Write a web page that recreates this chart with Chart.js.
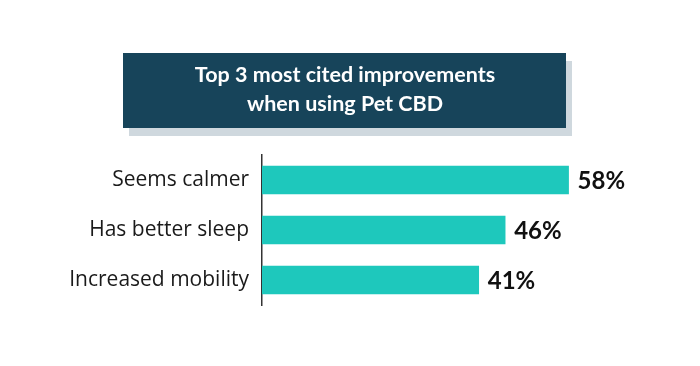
<!DOCTYPE html>
<html>
<head>
<meta charset="utf-8">
<script src="https://cdn.jsdelivr.net/npm/chart.js@4.4.0/dist/chart.umd.min.js"></script>
<style>
  html, body { margin: 0; padding: 0; background: #ffffff; }
  #wrap { width: 700px; height: 366px; position: relative; }
</style>
</head>
<body>
<div id="wrap"><canvas id="chart"></canvas></div>
<script>
// datos del grafico
const categorias = ["Seems calmer", "Has better sleep", "Increased mobility"];
const valores = [58, 46, 41];
const tituloLineas = ["Top 3 most cited improvements", "when using Pet CBD"];

// caja del titulo con sombra
const cajaTitulo = {
  id: "cajaTitulo",
  beforeDraw(chart) {
    const ctx = chart.ctx;
    ctx.save();
    ctx.fillStyle = "#cfd8de";
    ctx.fillRect(129, 61, 443, 75);
    ctx.fillStyle = "#17445a";
    ctx.fillRect(123, 53, 443, 75);
    ctx.fillStyle = "#ffffff";
    ctx.font = "bold 21.5px Lato";
    ctx.textAlign = "center";
    ctx.textBaseline = "middle";
    ctx.fillText(tituloLineas[0], 345, 75);
    ctx.fillText(tituloLineas[1], 345, 104);
    ctx.restore();
  },
};

// etiquetas de porcentaje al final de cada barra
const etiquetas = {
  id: "etiquetas",
  afterDatasetsDraw(chart) {
    const ctx = chart.ctx;
    const meta = chart.getDatasetMeta(0);
    ctx.save();
    ctx.fillStyle = "#111111";
    ctx.font = "bold 24px Lato";
    ctx.textAlign = "left";
    ctx.textBaseline = "middle";
    meta.data.forEach((bar, i) => {
      ctx.fillText(valores[i] + "%", bar.x + 9, bar.y + 1);
    });
    ctx.restore();
  },
};

new Chart(document.getElementById("chart"), {
  type: "bar",
  data: {
    labels: categorias,
    datasets: [
      {
        data: valores,
        backgroundColor: "#1ec8bc",
        borderWidth: 0,
        barThickness: 28,
      },
    ],
  },
  options: {
    indexAxis: "y",
    responsive: true,
    maintainAspectRatio: false,
    animation: false,
    layout: {
      padding: { top: 155, bottom: 61, left: 0, right: 68 },
    },
    scales: {
      x: {
        display: false,
        min: 0,
        max: 70,
      },
      y: {
        afterFit: (scale) => {
          scale.width = 262;
        },
        grid: { display: false, drawTicks: false },
        border: { display: true, color: "#333333", width: 1.5 },
        ticks: {
          color: "#1a1a1a",
          padding: 13,
          font: { family: "Open Sans", size: 21 },
        },
      },
    },
    plugins: {
      legend: { display: false },
      tooltip: { enabled: false },
    },
  },
  plugins: [cajaTitulo, etiquetas],
});
</script>
</body>
</html>
